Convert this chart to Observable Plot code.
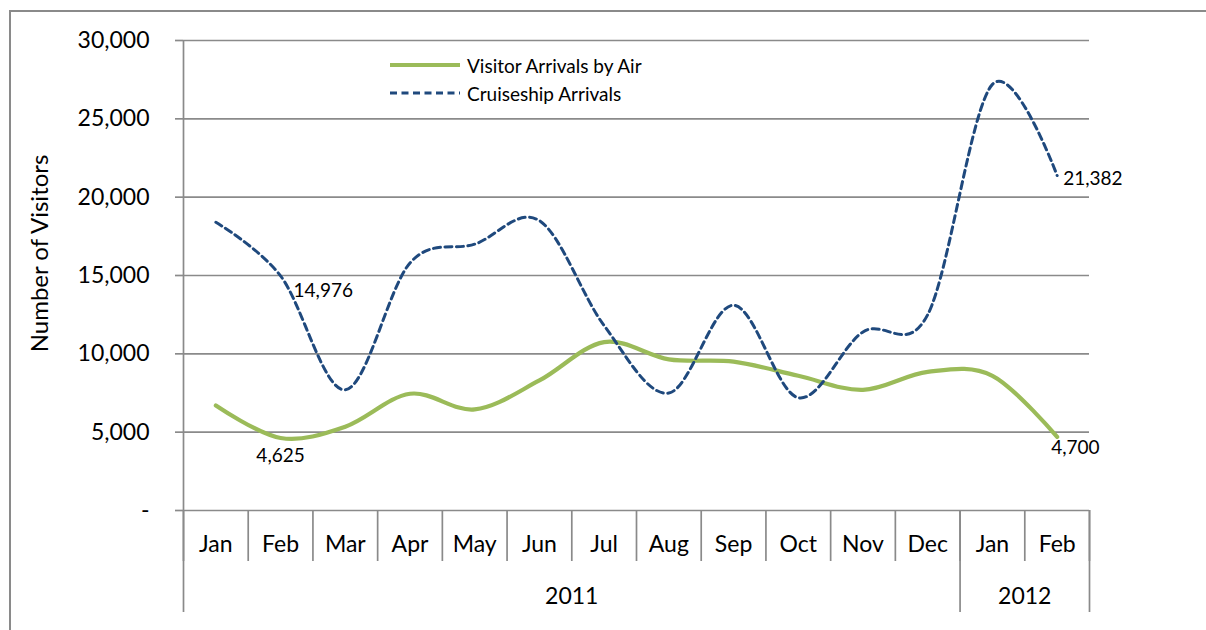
<!DOCTYPE html>
<html>
<head>
<meta charset="utf-8">
<script src="https://cdn.jsdelivr.net/npm/d3@7"></script>
<script src="https://cdn.jsdelivr.net/npm/@observablehq/plot@0.6"></script>
<style>
  body { margin: 0; background: #fff; }
  #wrap { position: relative; width: 1206px; height: 630px; overflow: hidden; font-family: Lato, "Open Sans", sans-serif; }
  #frame { position: absolute; left: 9px; top: 10px; width: 1220px; height: 660px; border: 2px solid #8a8a8a; box-sizing: border-box; }
  #chart { position: absolute; left: 0; top: 0; }
  .lg { position: absolute; left: 390px; height: 26px; display: flex; align-items: center; font-size: 19px; color: #000; white-space: nowrap; }
  .lg svg { margin-right: 7px; }
</style>
</head>
<body>
<div id="wrap">
  <div id="frame"></div>
  <div id="chart"></div>
  <div id="legend"></div>
</div>
<script>
// ---- data ----
const months = ["Jan","Feb","Mar","Apr","May","Jun","Jul","Aug","Sep","Oct","Nov","Dec","Jan","Feb"];
const years = [{label: "2011", from: 0, to: 11}, {label: "2012", from: 12, to: 13}];
const airArrivals    = [6700, 4625, 5350, 7450, 6450, 8300, 10750, 9650, 9500, 8600, 7700, 8850, 8600, 4700];
const cruiseArrivals = [18400, 14976, 7700, 15800, 17000, 18500, 11800, 7500, 13100, 7200, 11400, 12500, 27200, 21382];
const seriesNames = ["Visitor Arrivals by Air", "Cruiseship Arrivals"];
const seriesColors = ["#9BBB59", "#1F497D"];
const yTicks = [0, 5000, 10000, 15000, 20000, 25000, 30000];
const labelledIndex = [1, 13];

// ---- derived ----
const air = months.map((m, i) => ({i, v: airArrivals[i]}));
const cruise = months.map((m, i) => ({i, v: cruiseArrivals[i]}));
const monthIdx = months.map((m, i) => i);
const boundaries = d3.range(months.length + 1).map(k => k - 0.5);
const yearBounds = [-0.5, ...years.map(y => y.to + 0.5)];
const yearCenters = years.map(y => (y.from + y.to) / 2);
const fmt = d3.format(",");
const grid = "#8a8a8a";

const chart = Plot.plot({
  width: 1206,
  height: 630,
  marginLeft: 183,
  marginRight: 117,
  marginTop: 40,
  marginBottom: 120,
  style: {fontFamily: "Lato, 'Open Sans', sans-serif", fontSize: "23px", color: "#000", background: "transparent", overflow: "visible"},
  x: {type: "linear", domain: [-0.5, months.length - 0.5], label: null},
  y: {domain: [0, 30000], label: null},
  marks: [
    Plot.ruleY(yTicks, {stroke: grid, strokeWidth: 1.7}),
    Plot.ruleX([-0.5], {y1: 0, y2: 30000, stroke: grid, strokeWidth: 1.7}),
    Plot.axisY({ticks: yTicks, tickSize: 8, tickPadding: 26, stroke: grid, strokeWidth: 1.7, strokeOpacity: 1,
      tickFormat: d => d === 0 ? "-" : fmt(d), fontSize: 23, label: null}),
    Plot.axisX({ticks: boundaries, tickSize: 51, tickFormat: () => "", stroke: grid, strokeWidth: 1.7, strokeOpacity: 1, label: null}),
    Plot.axisX({ticks: yearBounds, tickSize: 102, tickFormat: () => "", stroke: grid, strokeWidth: 1.7, strokeOpacity: 1, label: null}),
    Plot.axisX({ticks: monthIdx, tickSize: 0, tickPadding: 25, tickFormat: i => months[i], fontSize: 23, label: null}),
    Plot.axisX({ticks: yearCenters, tickSize: 0, tickPadding: 77, tickFormat: c => years[yearCenters.indexOf(c)].label, fontSize: 23, label: null}),
    Plot.text(["Number of Visitors"], {text: d => d, frameAnchor: "left", textAnchor: "middle", rotate: -90, dx: -143, dy: -22, fontSize: 24, fill: "#000"}),
    Plot.line(air, {x: "i", y: "v", stroke: seriesColors[0], strokeWidth: 4.2, curve: "cardinal"}),
    Plot.line(cruise, {x: "i", y: "v", stroke: seriesColors[1], strokeWidth: 3, strokeDasharray: "7,4.5", curve: "cardinal"}),
    Plot.text([air[labelledIndex[0]]], {x: "i", y: "v", text: d => fmt(d.v), dy: 18, fontSize: 19, fill: "#000"}),
    Plot.text([air[labelledIndex[1]]], {x: "i", y: "v", text: d => fmt(d.v), textAnchor: "start", dx: -6, dy: 11, fontSize: 19, fill: "#000"}),
    Plot.text([cruise[labelledIndex[0]]], {x: "i", y: "v", text: d => fmt(d.v), textAnchor: "start", dx: 13, dy: 15, fontSize: 19, fill: "#000"}),
    Plot.text([cruise[labelledIndex[1]]], {x: "i", y: "v", text: d => fmt(d.v), textAnchor: "start", dx: 6, dy: 3, fontSize: 19, fill: "#000"})
  ]
});
document.getElementById("chart").appendChild(chart);

// ---- legend (inside plot area, top) ----
const legend = document.getElementById("legend");
const tops = [52, 80];
seriesNames.forEach((name, k) => {
  const row = document.createElement("div");
  row.className = "lg";
  row.style.top = tops[k] + "px";
  const dash = k === 1 ? 'stroke-dasharray="7,4.5"' : "";
  const sw = k === 1 ? 3 : 4.2;
  row.innerHTML = `<svg width="70" height="10"><line x1="0" x2="70" y1="5" y2="5" stroke="${seriesColors[k]}" stroke-width="${sw}" ${dash}/></svg><span>${name}</span>`;
  legend.appendChild(row);
});
</script>
</body>
</html>
